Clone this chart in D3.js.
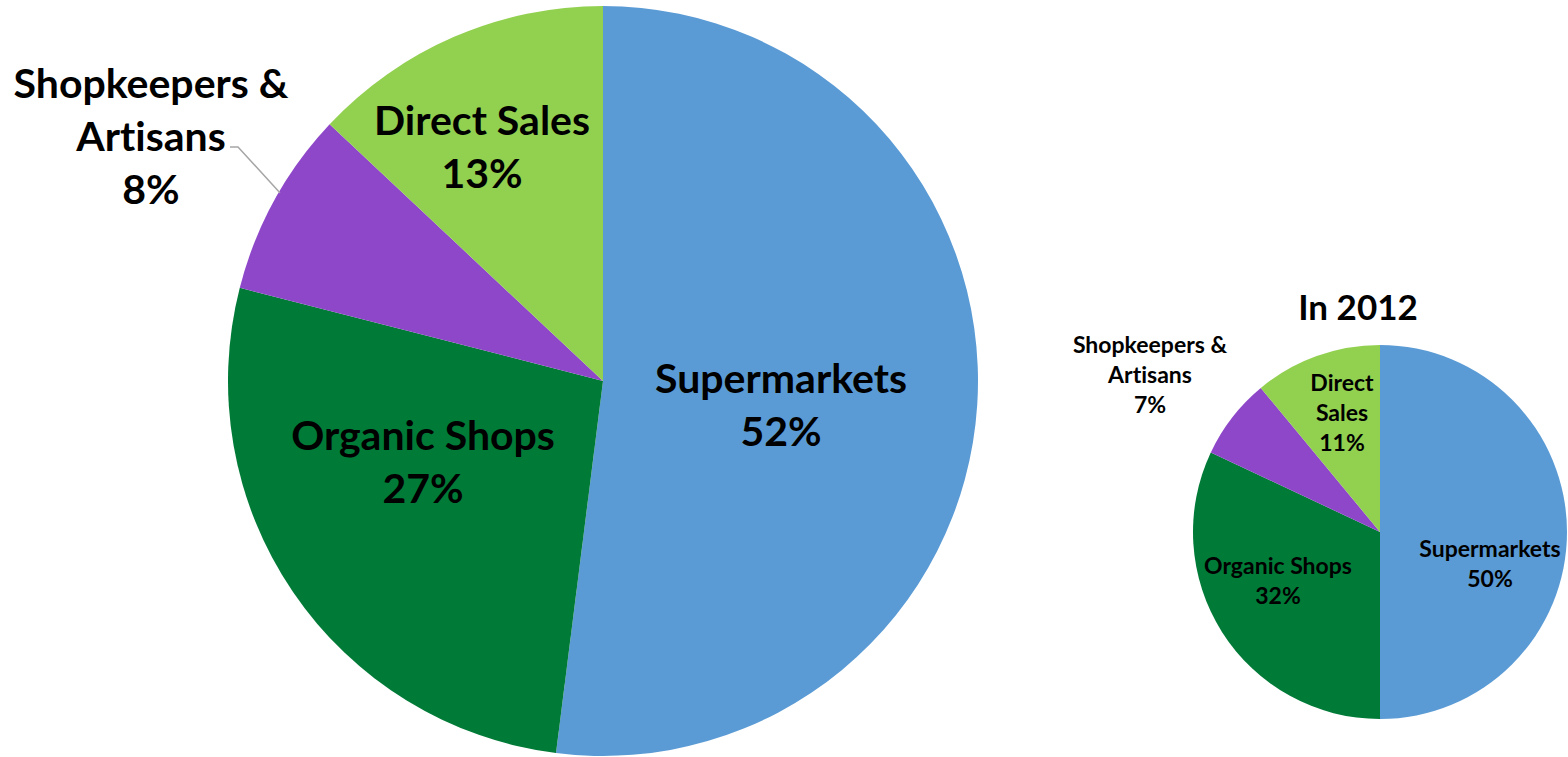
<!DOCTYPE html>
<html>
<head>
<meta charset="utf-8">
<script src="https://cdn.jsdelivr.net/npm/d3@7"></script>
<style>
  html, body { margin: 0; padding: 0; background: #fff; }
  svg { display: block; }
  text { font-family: Lato, "Open Sans", sans-serif; font-weight: 700; fill: #000;
         font-variant-ligatures: none; font-feature-settings: "liga" 0, "clig" 0; }
</style>
</head>
<body>
<svg id="chart" width="1568" height="757"></svg>
<script>
// Distribution channels, shares in percent
const categories = ["Supermarkets", "Organic Shops", "Shopkeepers & Artisans", "Direct Sales"];
const sharesNow = [52, 27, 8, 13];
const shares2012 = [50, 32, 7, 11];
const smallTitle = "In 2012";

const colors = d3.scaleOrdinal()
  .domain(categories)
  .range(["#5B9BD5", "#007A37", "#8E47C8", "#92D050"]);

const svg = d3.select("#chart");

// Label layout per pie: line texts split, placement relative to the pie centre
const bigLayout = {
  cx: 603, cy: 381, r: 375, fontSize: 41, lineGap: 53,
  labels: [
    { dx: 178, dy: 12 },   // Supermarkets
    { dx: -180, dy: 69 },  // Organic Shops
    { dx: -452, dy: -283 }, // Shopkeepers & Artisans (outside)
    { dx: -121, dy: -246 } // Direct Sales
  ],
  lines: [
    ["Supermarkets"], ["Organic Shops"], ["Shopkeepers &", "Artisans"], ["Direct Sales"]
  ]
};
const smallLayout = {
  cx: 1380, cy: 532, r: 187, fontSize: 23, lineGap: 30,
  labels: [
    { dx: 110, dy: 25 },
    { dx: -102, dy: 42 },
    { dx: -230, dy: -179 },
    { dx: -38, dy: -141 }
  ],
  lines: [
    ["Supermarkets"], ["Organic Shops"], ["Shopkeepers &", "Artisans"], ["Direct", "Sales"]
  ]
};

function drawPie(values, layout) {
  const pie = d3.pie().sort(null).value(d => d.v);
  const arc = d3.arc().innerRadius(0).outerRadius(layout.r);
  const data = values.map((v, i) => ({ v, name: categories[i], i }));
  const g = svg.append("g").attr("transform", `translate(${layout.cx},${layout.cy})`);

  g.selectAll("path.slice")
    .data(pie(data))
    .join("path")
    .attr("class", "slice")
    .attr("d", arc)
    .attr("fill", d => colors(d.data.name));

  const lbl = g.append("g");
  data.forEach((d, i) => {
    const pos = layout.labels[i];
    const lines = layout.lines[i].concat([d.v + "%"]);
    const t = lbl.append("text")
      .attr("text-anchor", "middle")
      .attr("font-size", layout.fontSize);
    lines.forEach((s, k) => {
      t.append("tspan")
        .attr("x", pos.dx)
        .attr("y", pos.dy + k * layout.lineGap)
        .text(s);
    });
  });
  return { g, pie: pie(data), arc };
}

const big = drawPie(sharesNow, bigLayout);
drawPie(shares2012, smallLayout);

// Leader line from the outside label to the rim of the Shopkeepers slice
{
  const s = big.pie[2];
  const rimAngle = s.startAngle + (s.endAngle - s.startAngle) * 0.55;
  const rr = bigLayout.r - 1;
  const p = [Math.sin(rimAngle) * rr, -Math.cos(rimAngle) * rr];
  big.g.append("path")
    .attr("d", d3.line()([[-373, -234], [-365, -234], p]))
    .attr("fill", "none")
    .attr("stroke", "#A6A6A6")
    .attr("stroke-width", 1.5);
}

// Title of the smaller pie
svg.append("text")
  .attr("x", 1358)
  .attr("y", 320)
  .attr("text-anchor", "middle")
  .attr("font-size", 35)
  .text(smallTitle);
</script>
</body>
</html>
